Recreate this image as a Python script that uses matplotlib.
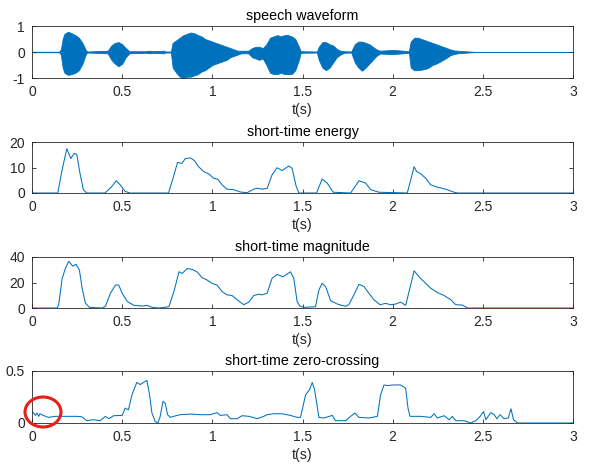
import matplotlib
matplotlib.use('Agg')
import matplotlib.pyplot as plt
from matplotlib.patches import Ellipse
import numpy as np

plt.rcParams['font.family'] = ['Liberation Sans', 'DejaVu Sans']

# speech waveform, read as upper / lower envelope
wave_t = [0, 0.15, 0.16, 0.17, 0.18, 0.20, 0.22, 0.24, 0.26, 0.28, 0.30, 0.31, 0.42,
          0.44, 0.46, 0.48, 0.50, 0.52, 0.54, 0.63, 0.65, 0.67, 0.73, 0.74, 0.77,
          0.78, 0.80, 0.82, 0.84, 0.86, 0.88, 0.90, 0.92, 0.94, 0.96, 0.98, 1.00,
          1.02, 1.04, 1.06, 1.08, 1.10, 1.12, 1.14, 1.16, 1.20, 1.22, 1.24, 1.26,
          1.28, 1.30, 1.32, 1.34, 1.36, 1.38, 1.40, 1.42, 1.44, 1.46, 1.48, 1.49,
          1.58, 1.59, 1.61, 1.63, 1.65, 1.67, 1.69, 1.71, 1.73, 1.77, 1.79, 1.81,
          1.83, 1.85, 1.87, 1.89, 1.91, 1.93, 2.00, 2.06, 2.09, 2.10, 2.12, 2.14,
          2.16, 2.18, 2.20, 2.22, 2.24, 2.26, 2.28, 2.30, 2.32, 2.34, 2.36, 2.40,
          2.44, 2.46, 3.0]
wave_hi = [0.01, 0.01, 0.1, 0.5, 0.7, 0.78, 0.72, 0.65, 0.55, 0.35, 0.05, 0.02, 0.05,
           0.25, 0.35, 0.38, 0.3, 0.15, 0.03, 0.03, 0.05, 0.03, 0.05, 0.02, 0.02,
           0.35, 0.45, 0.55, 0.65, 0.7, 0.75, 0.72, 0.65, 0.6, 0.5, 0.45, 0.4,
           0.35, 0.3, 0.25, 0.2, 0.15, 0.1, 0.05, 0.05, 0.05, 0.15, 0.2, 0.2,
           0.15, 0.3, 0.55, 0.6, 0.65, 0.6, 0.65, 0.65, 0.6, 0.5, 0.2, 0.03,
           0.02, 0.2, 0.38, 0.38, 0.3, 0.25, 0.12, 0.05, 0.03, 0.02, 0.3, 0.4,
           0.4, 0.35, 0.3, 0.2, 0.1, 0.05, 0.08, 0.05, 0.03, 0.4, 0.55, 0.55,
           0.5, 0.45, 0.4, 0.35, 0.3, 0.25, 0.2, 0.15, 0.1, 0.06, 0.05, 0.03,
           0.01, 0.005, 0.005]
wave_lo = [-0.01, -0.01, -0.1, -0.6, -0.8, -0.88, -0.85, -0.8, -0.7, -0.45, -0.05, -0.02, -0.05,
           -0.3, -0.45, -0.55, -0.45, -0.2, -0.05, -0.03, -0.05, -0.03, -0.05, -0.02, -0.02,
           -0.6, -0.8, -0.95, -1.0, -0.95, -0.95, -0.9, -0.85, -0.75, -0.7, -0.6, -0.5,
           -0.45, -0.4, -0.35, -0.3, -0.2, -0.15, -0.1, -0.05, -0.05, -0.2, -0.25, -0.3,
           -0.25, -0.5, -0.8, -0.85, -0.85, -0.8, -0.85, -0.85, -0.85, -0.7, -0.3, -0.03,
           -0.02, -0.3, -0.6, -0.7, -0.6, -0.4, -0.2, -0.1, -0.03, -0.02, -0.4, -0.6,
           -0.72, -0.6, -0.45, -0.3, -0.15, -0.06, -0.08, -0.05, -0.03, -0.6, -0.7, -0.7,
           -0.68, -0.65, -0.6, -0.5, -0.45, -0.38, -0.3, -0.22, -0.12, -0.08, -0.05, -0.03,
           -0.01, -0.005, -0.005]

# short-time energy
en_t = [0, 0.143, 0.165, 0.193, 0.215, 0.233, 0.248, 0.266, 0.285, 0.303, 0.405, 0.443,
        0.467, 0.489, 0.517, 0.544, 0.757, 0.785, 0.807, 0.831, 0.85, 0.878, 0.902, 0.924,
        0.952, 0.98, 1.007, 1.03, 1.054, 1.081, 1.118, 1.155, 1.192, 1.23, 1.248, 1.276,
        1.304, 1.331, 1.359, 1.387, 1.424, 1.442, 1.465, 1.48, 1.578, 1.609, 1.637, 1.67,
        1.767, 1.813, 1.85, 1.878, 1.924, 2.081, 2.119, 2.133, 2.156, 2.183, 2.211, 2.248,
        2.294, 2.341, 2.36, 3.0]
en_v = [0, 0, 8.4, 17.4, 13.5, 15.5, 15.2, 7.7, 1.3, 0, 0, 2.6,
        4.8, 3.2, 0.6, 0, 0, 6.5, 12, 11.6, 13.5, 13.8, 12.6, 10.3,
        8.4, 7.5, 5.8, 5.4, 3.2, 1.5, 1.3, 0.4, 0.1, 1.5, 1.9, 1.5,
        1.8, 7.1, 9.9, 8.8, 10.6, 9.7, 2.6, 0, 0, 5.5, 3.9, 0.3,
        0, 4.8, 3.9, 1.3, 0.3, 0, 10.3, 8.4, 7.5, 5.8, 3.2, 2.3,
        1.5, 0.3, 0, 0]

# short-time magnitude
mag_t = [0, 0.14, 0.148, 0.167, 0.185, 0.204, 0.226, 0.244, 0.263, 0.278, 0.296, 0.318,
         0.389, 0.407, 0.435, 0.463, 0.481, 0.5, 0.528, 0.565, 0.611, 0.637, 0.667, 0.704,
         0.759, 0.787, 0.815, 0.833, 0.861, 0.889, 0.915, 0.944, 0.97, 0.998, 1.026, 1.054,
         1.081, 1.109, 1.137, 1.174, 1.202, 1.23, 1.257, 1.276, 1.304, 1.331, 1.359, 1.392,
         1.433, 1.452, 1.47, 1.485, 1.507, 1.572, 1.591, 1.609, 1.628, 1.656, 1.693, 1.739,
         1.757, 1.785, 1.813, 1.841, 1.868, 1.896, 1.93, 1.961, 1.989, 2.017, 2.044, 2.072,
         2.091, 2.119, 2.146, 2.174, 2.211, 2.248, 2.285, 2.322, 2.35, 2.387, 2.415, 3.0]
mag_v = [0, 0, 2.6, 23, 31, 36.6, 32.8, 34.3, 29.7, 15.5, 3.9, 0.5,
         0, 1.3, 11.6, 18, 18, 11.6, 5.2, 2.1, 1.5, 2.1, 0.5, 0,
         1, 12.9, 28.4, 27.1, 31, 30.2, 28.4, 23.7, 22, 19.4, 18, 12.9,
         10.3, 9.8, 6.5, 2.6, 4.6, 9.8, 10.8, 10.3, 11.6, 23.2, 26.3, 24.5,
         28.4, 23.2, 5.2, 1.5, 0.5, 1, 14.2, 19.4, 16.8, 5.7, 3.1, 1.3,
         2.6, 10.3, 18.6, 16.8, 11.6, 6.5, 2.6, 3.6, 2.6, 3.1, 4.6, 2.1,
         12.9, 29.2, 24.5, 20.6, 15.5, 12.1, 9.8, 6.5, 2.6, 2.3, 0, 0]

# short-time zero-crossing
zc_t = [0, 0.009, 0.019, 0.028, 0.037, 0.044, 0.063, 0.091, 0.128, 0.193, 0.248, 0.276,
        0.304, 0.341, 0.378, 0.407, 0.426, 0.452, 0.5, 0.517, 0.535, 0.554, 0.581, 0.6,
        0.619, 0.637, 0.652, 0.665, 0.683, 0.698, 0.711, 0.726, 0.739, 0.752, 0.767, 0.785,
        0.822, 0.878, 0.933, 0.989, 1.007, 1.026, 1.044, 1.081, 1.1, 1.137, 1.165, 1.204,
        1.248, 1.285, 1.304, 1.341, 1.387, 1.433, 1.47, 1.489, 1.517, 1.539, 1.554, 1.567,
        1.591, 1.619, 1.665, 1.683, 1.739, 1.767, 1.791, 1.813, 1.869, 1.915, 1.933, 1.952,
        1.97, 2.007, 2.044, 2.072, 2.085, 2.096, 2.156, 2.211, 2.23, 2.248, 2.285, 2.313,
        2.331, 2.35, 2.396, 2.433, 2.461, 2.485, 2.504, 2.517, 2.544, 2.563, 2.578, 2.596,
        2.618, 2.641, 2.656, 2.67, 2.693, 3.0]
zc_v = [0.11, 0.096, 0.073, 0.096, 0.064, 0.089, 0.073, 0.054, 0.064, 0.064, 0.064, 0.06,
        0.022, 0.032, 0.022, 0.064, 0.041, 0.07, 0.073, 0.143, 0.127, 0.27, 0.39, 0.37,
        0.39, 0.41, 0.27, 0.096, 0.016, 0.0, 0.064, 0.207, 0.19, 0.08, 0.054, 0.064,
        0.08, 0.086, 0.08, 0.08, 0.089, 0.1, 0.073, 0.08, 0.041, 0.041, 0.07, 0.064,
        0.041, 0.064, 0.08, 0.089, 0.089, 0.073, 0.054, 0.054, 0.27, 0.32, 0.39, 0.32,
        0.054, 0.048, 0.073, 0.022, 0.022, 0.064, 0.096, 0.054, 0.048, 0.064, 0.27, 0.366,
        0.36, 0.366, 0.366, 0.334, 0.143, 0.064, 0.064, 0.054, 0.089, 0.048, 0.07, 0.032,
        0.064, 0.022, 0.022, 0.0, 0.022, 0.064, 0.11, 0.032, 0.1, 0.08, 0.041, 0.08,
        0.041, 0.048, 0.137, 0.032, 0.0, 0.0]

blue = '#0072BD'
W, H = 591, 468
fig = plt.figure(figsize=(W / 100, H / 100), dpi=100)

# axes boxes in pixels: top, bottom
boxes = [(26, 78), (142, 193), (257, 308), (371, 423)]
left, right = 32, 573
axs = []
for top, bot in boxes:
    axs.append(fig.add_axes([left / W, 1 - bot / H, (right - left) / W, (bot - top) / H]))

axs[0].fill_between(wave_t, wave_lo, wave_hi, color=blue, lw=0.6, edgecolor=blue)
axs[1].plot(en_t, en_v, color=blue, lw=0.75)
axs[2].plot(mag_t, mag_v, color=blue, lw=0.75)
axs[3].plot(zc_t, zc_v, color=blue, lw=0.75)

titles = ['speech waveform', 'short-time energy', 'short-time magnitude',
          'short-time zero-crossing']
ylims = [(-1, 1), (0, 20), (0, 40), (0, 0.5)]
yticks = [[-1, 0, 1], [0, 10, 20], [0, 20, 40], [0, 0.5]]
for ax, ttl, yl, yt in zip(axs, titles, ylims, yticks):
    ax.set_xlim(0, 3)
    ax.set_ylim(*yl)
    ax.set_yticks(yt)
    ax.set_yticklabels([('%g' % v) for v in yt])
    ax.set_xticks([0, 0.5, 1, 1.5, 2, 2.5, 3])
    ax.set_xticklabels(['0', '0.5', '1', '1.5', '2', '2.5', '3'])
    ax.set_title(ttl, fontsize=10.3, color='black', pad=4)
    ax.set_xlabel('t(s)', fontsize=10.3, color='#262626', labelpad=3)
    ax.tick_params(direction='in', top=True, right=True, length=3, width=0.6,
                   labelsize=10, colors='#262626', pad=5)
    for s in ax.spines.values():
        s.set_linewidth(0.6)
        s.set_color('#262626')

# hand-drawn red mark on the last panel
fig.patches.append(Ellipse((43, H - 412), 36, 30, transform=None, fill=False,
                           edgecolor='#E8201A', lw=2.2, figure=fig))

fig.savefig('out.png', dpi=100)
